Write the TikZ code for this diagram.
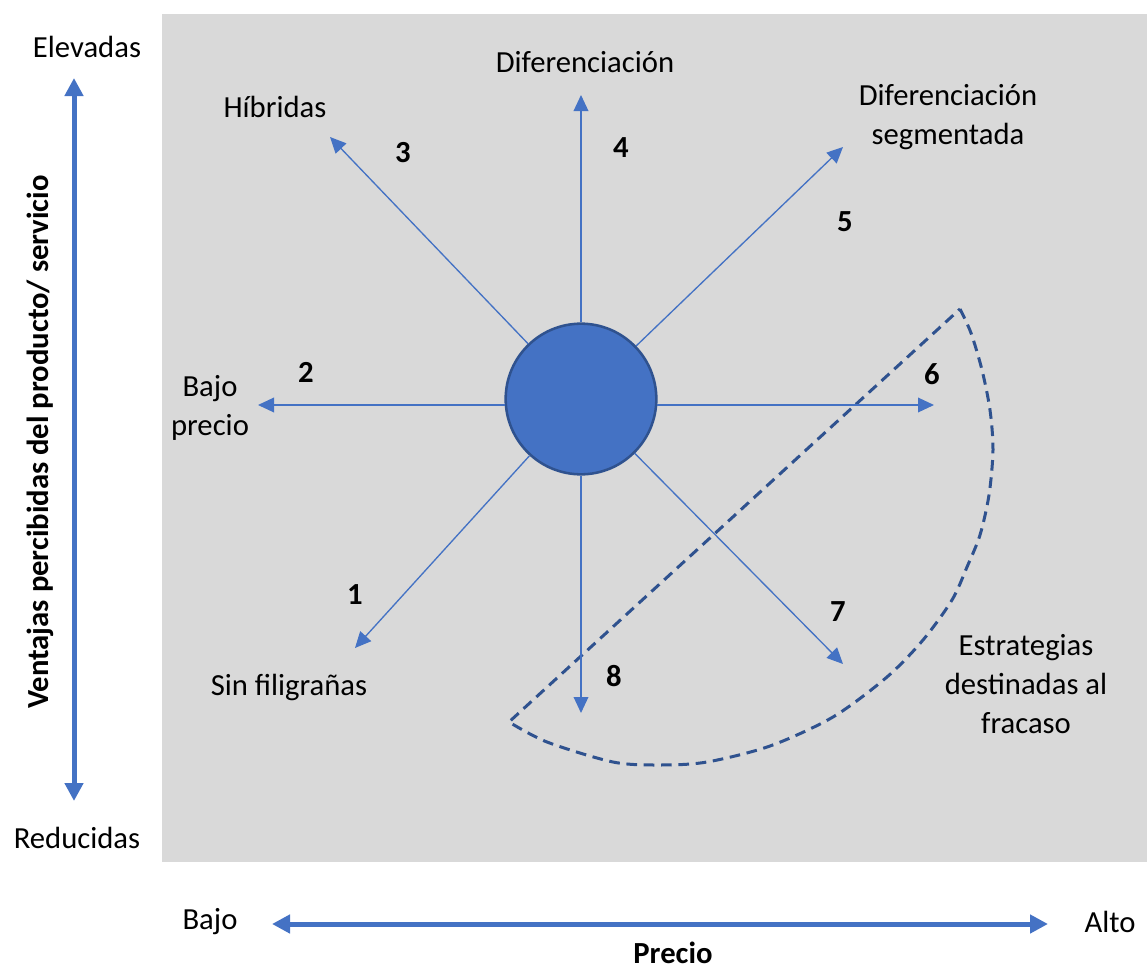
\documentclass[tikz,border=0pt]{standalone}
\usepackage{fontspec}
\setmainfont{Carlito}
\usetikzlibrary{arrows.meta}
\definecolor{panelgray}{HTML}{D9D9D9}
\definecolor{accent}{HTML}{4472C4}
\definecolor{accentdark}{HTML}{2F528F}
\begin{document}
\begin{tikzpicture}[x=0.75pt,y=-0.75pt,
  lbl/.style={font=\fontsize{23}{29.3}\selectfont, align=center, inner sep=0pt},
  num/.style={font=\fontsize{23}{29.3}\selectfont\bfseries, inner sep=0pt},
  spoke/.style={accent, line width=1pt, -{Triangle[length=12pt,width=11pt]}},
  axisarrow/.style={accent, line width=3.75pt,
    {Triangle[length=13.5pt,width=13.5pt]}-{Triangle[length=13.5pt,width=13.5pt]}},
  failzone/.style={accentdark, line width=2.25pt, dash pattern=on 8pt off 5pt, line join=miter},
  hub/.style={circle, fill=accent, draw=accentdark, line width=1.9pt,
    minimum size=113pt, inner sep=0pt}]
\useasboundingbox (0,0) rectangle (1147,967);

% grey panel
\fill[panelgray] (162,14) rectangle (1147,862);

% axes
\coordinate (ytop) at (74,78);
\coordinate (ybot) at (74,801);
\coordinate (xlo) at (272,924);
\coordinate (xhi) at (1048,924);
\draw[axisarrow] (ytop) -- (ybot);
\draw[axisarrow] (xlo) -- (xhi);
\node[lbl] (elev) at (87,47) {Elevadas};
\node[lbl] (redu) at (77,838) {Reducidas};
\node[lbl] (bajo) at (210,922) {Bajo};
\node[num] (precio) at (673,953) {Precio};
\node[lbl] (alto) at (1110,922) {Alto};
\node[num, rotate=90] (ventajas) at (40,442)
  {Ventajas percibidas del producto/ servicio};

% failure zone
\draw[failzone] plot[smooth] coordinates {(960,309) (971,333) (982,370) (990,410) (993,450)
  (989,495) (980,535) (967,567) (952,600) (923,640) (887,677) (833,717) (770,746)
  (707,762) (660,765) (613,762) (547,742) (509,722)} -- cycle;

% hub and spokes
\node[hub] (c) at (581,399) {};
\coordinate (t1) at (355,648);
\coordinate (t2) at (258,405);
\coordinate (t3) at (330,137);
\coordinate (t4) at (581,95);
\coordinate (t5) at (843,147);
\coordinate (t6) at (934,405);
\coordinate (t7) at (843,664);
\coordinate (t8) at (581,713);
\foreach \i in {1,3,4,5,7,8} { \draw[spoke] (c) -- (t\i); }
\draw[spoke] ([xshift=0.6pt]c.west |- t2) -- (t2);
\draw[spoke] ([xshift=-0.6pt]c.east |- t6) -- (t6);

% strategy labels
\node[lbl] (sinfil) at (289,687) {Sin filigrañas};
\node[lbl] (bajoprecio) at (210,408) {Bajo\\precio};
\node[lbl] (hibridas) at (275,107) {Híbridas};
\node[lbl] (dif) at (585,62) {Diferenciación};
\node[lbl] (difseg) at (948,117) {Diferenciación\\segmentada};
\node[lbl] (fracaso) at (1026,684) {Estrategias\\destinadas al\\fracaso};

% route numbers
\node[num] (n1) at (355,595) {1};
\node[num] (n2) at (306,372) {2};
\node[num] (n3) at (403,153) {3};
\node[num] (n4) at (621,148) {4};
\node[num] (n5) at (845,222) {5};
\node[num] (n6) at (932,374) {6};
\node[num] (n7) at (838,612) {7};
\node[num] (n8) at (614,676) {8};
\end{tikzpicture}
\end{document}
